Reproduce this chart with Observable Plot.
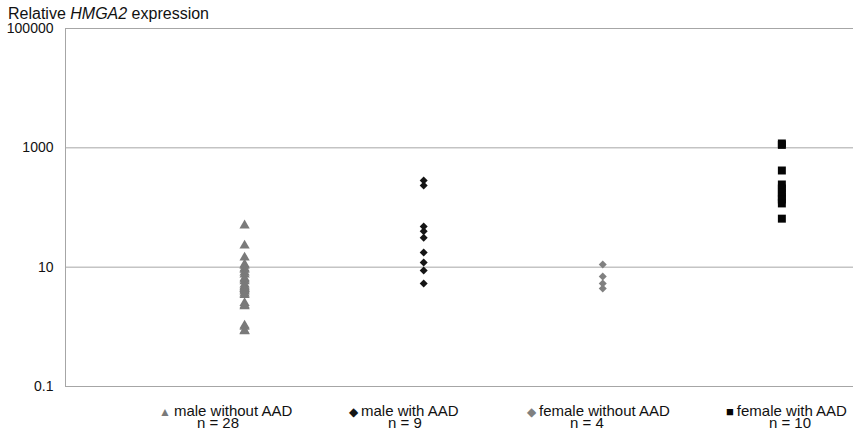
<!DOCTYPE html>
<html><head><meta charset="utf-8">
<script src="https://cdn.jsdelivr.net/npm/d3@7"></script>
<script src="https://cdn.jsdelivr.net/npm/@observablehq/plot@0.6"></script>
<style>
body{margin:0;background:#fff;font-family:"Liberation Sans",Arial,sans-serif;}
#wrap{width:864px;position:relative;}
#title{height:20px;line-height:28px;font-size:16px;padding-left:8px;color:#111;white-space:nowrap;overflow:visible;}
#legend{position:relative;height:31px;font-size:15px;color:#111;}
#legend div{position:absolute;white-space:nowrap;line-height:13px;}
.sym{display:inline-block;margin-right:3px;vertical-align:0px;line-height:13px;}
</style></head>
<body><div id="wrap"><div id="title">Relative <i>HMGA2</i> expression</div><div id="chart"></div><div id="legend"></div></div>
<script>
const groups = ["male without AAD", "male with AAD", "female without AAD", "female with AAD"];
const counts = [28, 9, 4, 10];
const maleWithout = [50, 23, 14.5, 11.1, 10.5, 9.5, 9, 8.1, 7.5, 6.5, 6.2, 5.8, 5.1, 4.8, 4.6, 4.4, 4.3, 4.1, 3.9, 3.6, 3.4, 2.5, 2.3, 2.2, 1.05, 1.0, 0.86, 0.84];
const maleWith = [284, 234, 48, 40, 31, 17.6, 12, 8.8, 5.3];
const femaleWithout = [11.1, 7, 5.3, 4.4];
const femaleWith = [1183, 1120, 417, 243, 208, 179, 153, 136, 117, 65];
const yTicks = [0.1, 10, 1000, 100000];
const symbols = ["triangle", "diamond2", "diamond2", "square"];
const colors = ["#7a7a7a", "#151515", "#808080", "#050505"];
const sizes = [3.8, 3.6, 3.6, 4.5];

const series = [maleWithout, maleWith, femaleWithout, femaleWith];
const data = series.flatMap((vals, i) => vals.map(v => ({group: groups[i], pos: i + 1, value: v})));

const marks = [
  Plot.ruleY(yTicks, {stroke: "#a6a6a6", strokeWidth: 1, strokeOpacity: 1}),
  Plot.ruleX([0], {stroke: "#a6a6a6", strokeOpacity: 1}),
  Plot.axisY({ticks: yTicks, tickSize: 0, tickPadding: 12, tickFormat: d => String(d), fontSize: 14, fill: "#111", label: null}),
];
groups.forEach((g, i) => {
  marks.push(Plot.dot(data.filter(d => d.group === g), {
    x: "pos", y: "value", symbol: () => symbols[i], r: sizes[i], fill: colors[i], stroke: "none"
  }));
});

const chart = Plot.plot({
  width: 864, height: 380,
  marginTop: 8, marginBottom: 14, marginLeft: 65, marginRight: 11,
  style: {fontFamily: "'Liberation Sans', Arial, sans-serif", background: "#fff"},
  x: {type: "linear", domain: [0, 4.4], axis: null},
  y: {type: "log", domain: [0.1, 100000], axis: null},
  symbol: {type: "identity"},
  marks
});
document.getElementById("chart").appendChild(chart);

// legend entries (Excel-style legend below the chart)
const legendX = [159, 349, 527, 726];
const nX = [218, 405, 587, 790];
const glyph = ["\u25B2", "\u25C6", "\u25C6", "\u25A0"];
const glyphSize = [12, 12, 12, 13];
const leg = document.getElementById("legend");
groups.forEach((g, i) => {
  const a = document.createElement("div");
  a.style.left = legendX[i] + "px"; a.style.top = "4px";
  a.innerHTML = `<span class="sym" style="color:${colors[i]};font-size:${glyphSize[i]}px">${glyph[i]}</span>${g}`;
  leg.appendChild(a);
  const b = document.createElement("div");
  b.style.left = nX[i] + "px"; b.style.top = "16px"; b.style.transform = "translateX(-50%)";
  b.textContent = "n = " + counts[i];
  leg.appendChild(b);
});
</script></body></html>
